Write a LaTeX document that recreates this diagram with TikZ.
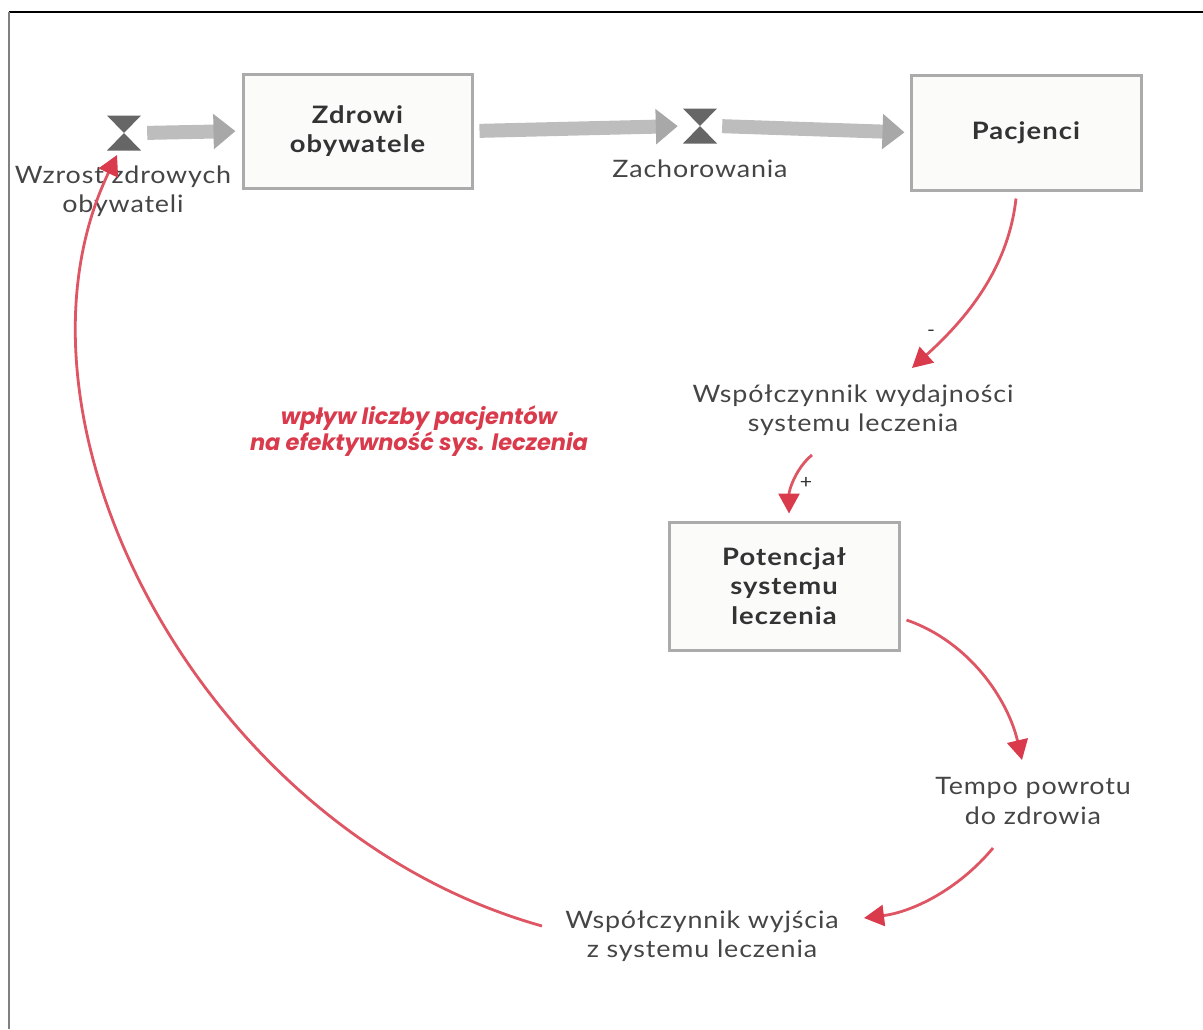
\documentclass[tikz,border=0pt]{standalone}
\usepackage{fontspec}
\setmainfont{Lato}[FakeStretch=1.12, LetterSpace=3.5]
\newfontfamily\boxfont{Lato}[FakeStretch=1.14, LetterSpace=4.5]
\newfontfamily\notefont{Poppins}
\usetikzlibrary{arrows.meta}
\definecolor{boxfill}{HTML}{FBFBFA}
\definecolor{boxline}{HTML}{ABABAB}
\definecolor{flowshaft}{HTML}{BDBDBD}
\definecolor{flowhead}{HTML}{A8A8A8}
\definecolor{valvecol}{HTML}{666666}
\definecolor{txt}{HTML}{454545}
\definecolor{boxtxt}{HTML}{333333}
\definecolor{redl}{HTML}{DE5564}
\definecolor{redh}{HTML}{D93A4C}
\tikzset{
  stock/.style={draw=boxline, line width=3pt, fill=boxfill, inner sep=0pt,
    text=boxtxt, font=\fontsize{24}{29.5}\boxfont\bfseries, align=center},
  valvenode/.style={minimum width=34pt, minimum height=35pt, inner sep=0pt,
    path picture={
      \fill[valvecol] (path picture bounding box.north west) -- (path picture bounding box.north east) -- (path picture bounding box.center) -- cycle;
      \fill[valvecol] (path picture bounding box.south west) -- (path picture bounding box.south east) -- (path picture bounding box.center) -- cycle;
    }},
  lbl/.style={text=txt, inner sep=0pt, align=center, font=\fontsize{24}{29.5}\selectfont},
  flow/.style={draw=flowshaft, line width=14pt,
    -{Triangle[length=22pt, width=34pt, color=flowhead, fill=flowhead]}},
  link/.style={draw=redl, line width=2.8pt,
    -{Triangle[length=20pt, width=21pt, color=redh, fill=redh]}},
  sign/.style={text=boxtxt, inner sep=0pt, font=\fontsize{19}{19}\selectfont},
}
\begin{document}
\begin{tikzpicture}[x=1pt,y=-1pt]
\useasboundingbox (0,0) rectangle (1203,1029);
% frame
\draw[black, line width=1.5pt] (9,12) -- (1203,12);
\draw[gray, line width=1.5pt] (9,12) -- (9,1029);

% stocks
\node[stock, minimum width=229pt, minimum height=114pt] (zdrowi) at (357.5,131) {Zdrowi\\obywatele};
\node[stock, minimum width=230pt, minimum height=115pt] (pacjenci) at (1026,132.5) {Pacjenci};
\node[stock, minimum width=230pt, minimum height=128pt] (potencjal) at (784,586) {Potencjał\\systemu\\leczenia};

% valves
\node[valvenode] (v1) at (124,133) {};
\node[valvenode] (v2) at (700,126) {};

% labels
\node[lbl] (lv1) at (123,191) {Wzrost zdrowych\\obywateli};
\node[lbl] (lv2) at (700,169) {Zachorowania};
\node[lbl] (wyd) at (853,410) {Współczynnik wydajności\\systemu leczenia};
\node[lbl] (tempo) at (1033,801) {Tempo powrotu\\do zdrowia};
\node[lbl] (wyj) at (702,936) {Współczynnik wyjścia\\z systemu leczenia};
\node[text=redh, inner sep=0pt, align=center, font=\fontsize{22.5}{26}\notefont\bfseries\itshape] (note) at (419,431) {wpływ liczby pacjentów\\na efektywność sys. leczenia};

% flows
\draw[flow, shorten <=6pt, shorten >=6pt] (v1.east) -- (zdrowi.west);
\draw[flow, shorten <=6pt, shorten >=5pt] (zdrowi.east) -- (v2.west);
\draw[flow, shorten <=5pt, shorten >=5pt] (v2.east) -- (pacjenci.west);

% causal links
\draw[link] ([shift={(-10,7)}]pacjenci.south) .. controls (1008,270) and (965,320) .. ([shift={(59,-42)}]wyd.center);
\node[sign] (minus) at ([shift={(78,-77)}]wyd.center) {-};
\draw[link] ([shift={(-41,45)}]wyd.center) .. controls (796,468) and (789,490) .. ([shift={(5,-7)}]potencjal.north);
\node[sign] (plus) at ([shift={(-47,73)}]wyd.center) {+};
\draw[link] ([shift={(6,34)}]potencjal.east) .. controls (970,642) and (1008,700) .. ([shift={(-11,-41)}]tempo.center);
\draw[link] ([shift={(-40,47)}]tempo.center) .. controls (958,890) and (912,912) .. ([shift={(162,-18)}]wyj.center);
\draw[link] ([shift={(-160,-10)}]wyj.center) .. controls (200,830) and (-10,420) .. ([shift={(-7,22)}]v1.center);
\end{tikzpicture}
\end{document}
